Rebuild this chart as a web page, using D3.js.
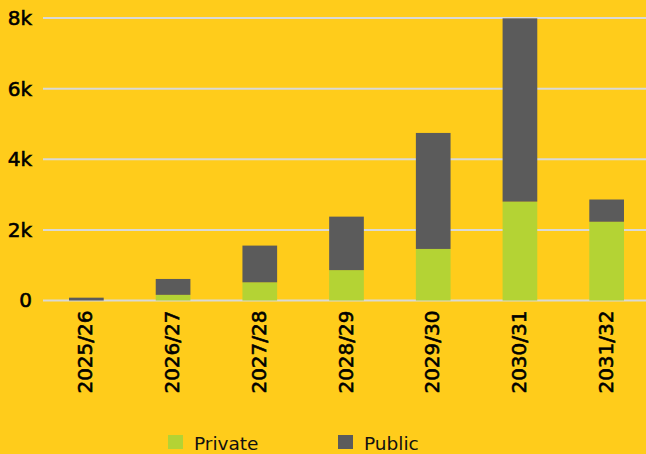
<!DOCTYPE html>
<html>
<head>
<meta charset="utf-8">
<script src="https://cdn.jsdelivr.net/npm/d3@7"></script>
<style>
  html, body { margin: 0; padding: 0; background: #FFCC1B; }
  svg { display: block; }
</style>
</head>
<body>
<script>
const categories = ["2025/26", "2026/27", "2027/28", "2028/29", "2029/30", "2030/31", "2031/32"];
const privateValues = [0, 160, 515, 860, 1460, 2800, 2230];
const publicValues = [80, 450, 1040, 1515, 3285, 5190, 630];
const seriesNames = ["Private", "Public"];
const yTicks = [0, 2000, 4000, 6000, 8000];
const yTickLabels = ["0", "2k", "4k", "6k", "8k"];

const W = 646, H = 454;
const colors = { Private: "#B4D334", Public: "#5B5B5B" };
const font = "'DejaVu Sans', sans-serif";

const svg = d3.select("body").append("svg").attr("width", W).attr("height", H);
svg.append("rect").attr("width", W).attr("height", H).attr("fill", "#FFCC1B");

const left = 43, right = 650;
const x = d3.scaleBand().domain(categories).range([left, right]).paddingInner(0.6).paddingOuter(0.3);
const y = d3.scaleLinear().domain([0, 8000]).range([300.5, 18]);

// gridlines
const yAxis = d3.axisLeft(y).tickValues(yTicks).tickFormat((d, i) => yTickLabels[i]).tickSize(0).tickPadding(11);
const gGrid = svg.append("g");
gGrid.selectAll("line").data(yTicks).join("line")
  .attr("x1", left).attr("x2", W)
  .attr("y1", d => y(d)).attr("y2", d => y(d))
  .attr("stroke", "#D9D9D6").attr("stroke-width", 2);

const gy = svg.append("g").attr("transform", `translate(${left},0)`).call(yAxis);
gy.select(".domain").remove();
gy.selectAll("text").attr("font-family", font).attr("font-size", 20).attr("fill", "#000")
  .attr("stroke", "#000").attr("stroke-width", 0.6);

// stacked data
const rows = categories.map((c, i) => ({ cat: c, Private: privateValues[i], Public: publicValues[i] }));
const stacked = d3.stack().keys(seriesNames)(rows);

svg.append("g").selectAll("g").data(stacked).join("g")
  .attr("fill", d => colors[d.key])
  .selectAll("rect").data(d => d).join("rect")
  .attr("x", d => x(d.data.cat))
  .attr("width", x.bandwidth())
  .attr("y", d => y(d[1]))
  .attr("height", d => Math.max(0, y(d[0]) - y(d[1])));

// x labels
const xAxis = d3.axisBottom(x).tickSize(0).tickPadding(0);
const gx = svg.append("g").attr("transform", `translate(0,${y(0)})`).call(xAxis);
gx.select(".domain").remove();
gx.selectAll("text")
  .attr("font-family", font).attr("font-size", 20).attr("fill", "#000")
  .attr("stroke", "#000").attr("stroke-width", 0.6)
  .attr("text-anchor", "end")
  .attr("dy", null)
  .attr("y", 0)
  .attr("transform", "translate(6,10) rotate(-90)");

// legend
const legendX = [168, 338];
const lg = svg.append("g").selectAll("g").data(seriesNames).join("g")
  .attr("transform", (d, i) => `translate(${legendX[i]},435)`);
lg.append("rect").attr("width", 15).attr("height", 14).attr("fill", d => colors[d]);
lg.append("text").attr("x", 26).attr("y", 15)
  .attr("font-family", font).attr("font-size", 18.5).attr("fill", "#111")
  .text(d => d);
</script>
</body>
</html>
